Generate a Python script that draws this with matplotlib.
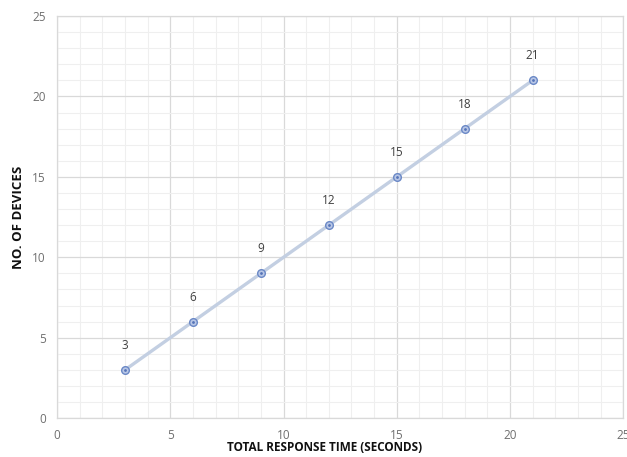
import matplotlib
matplotlib.use("Agg")
import matplotlib.pyplot as plt
from matplotlib.ticker import MultipleLocator

x_vals = [3, 6, 9, 12, 15, 18, 21]
y_vals = [3, 6, 9, 12, 15, 18, 21]
point_labels = ["3", "6", "9", "12", "15", "18", "21"]

plt.rcParams['font.family'] = ['Open Sans', 'DejaVu Sans']

fig = plt.figure(figsize=(6.27, 4.57), dpi=100)
ax = fig.add_axes([0.091, 0.085, 0.903, 0.88])

ax.set_xlim(0, 25)
ax.set_ylim(0, 25)
ax.xaxis.set_major_locator(MultipleLocator(5))
ax.yaxis.set_major_locator(MultipleLocator(5))
ax.xaxis.set_minor_locator(MultipleLocator(1))
ax.yaxis.set_minor_locator(MultipleLocator(1))
ax.grid(which='major', color='#d9d9d9', linewidth=0.9)
ax.grid(which='minor', color='#efefef', linewidth=0.8)
ax.set_axisbelow(True)

ax.plot(x_vals, y_vals, color='#c3cfe2', linewidth=2.4, zorder=2)
ax.plot(x_vals, y_vals, linestyle='none', marker='o', markersize=5.5,
        markerfacecolor='#b9c7e6', markeredgecolor='#6a88c6', markeredgewidth=1.0, zorder=3)
ax.plot(x_vals, y_vals, linestyle='none', marker='o', markersize=2.0,
        markerfacecolor='#5574b8', markeredgecolor='none', zorder=4)

for xv, yv, lab in zip(x_vals, y_vals, point_labels):
    ax.annotate(lab, (xv, yv), xytext=(0, 13), textcoords='offset points',
                ha='center', va='bottom', fontsize=8.5, color='#404040')

for s in ax.spines.values():
    s.set_color('#d9d9d9')
    s.set_linewidth(0.9)

ax.tick_params(which='both', length=0, labelsize=8.5, labelcolor='#6f6f6f', pad=8)
ax.set_xlabel('TOTAL RESPONSE TIME (SECONDS)', fontsize=8.5, fontweight='bold', color='#111111')
ax.xaxis.set_label_coords(0.472, -0.058)
ax.set_ylabel('NO. OF DEVICES', fontsize=9.5, fontweight='bold', color='#111111', labelpad=5)

fig.savefig('out.png', dpi=100)
